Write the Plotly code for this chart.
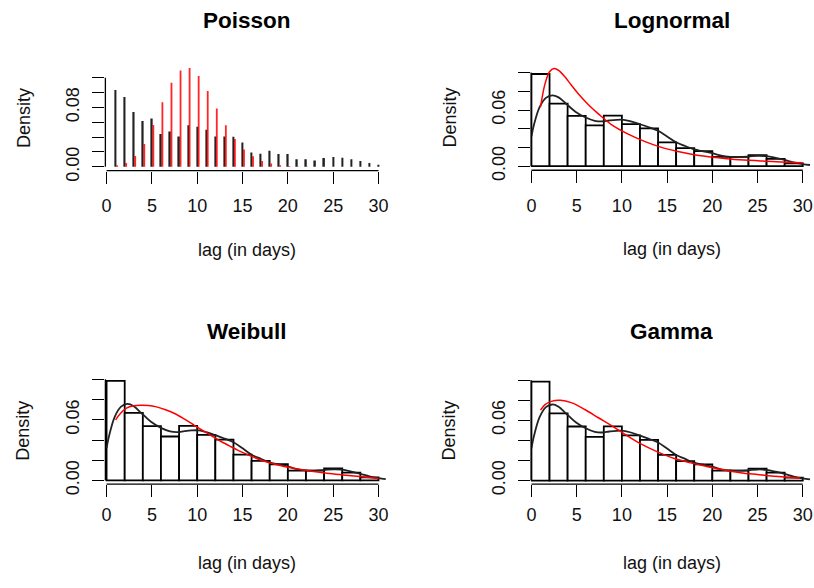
import plotly.graph_objects as go

W, H = 814, 588
FONT = "Liberation Sans"

# ---- data -------------------------------------------------------------
lag = list(range(1, 31))
# observed proportion of cases for each lag (days)
obs_prop = [0.1037, 0.0940, 0.0738, 0.0619, 0.0650, 0.0442, 0.0477, 0.0410,
            0.0560, 0.0540, 0.0500, 0.0410, 0.0410, 0.0406, 0.0327, 0.0194,
            0.0177, 0.0216, 0.0172, 0.0172, 0.0102, 0.0102, 0.0084, 0.0119,
            0.0133, 0.0124, 0.0102, 0.0080, 0.0053, 0.0027]
# fitted Poisson probabilities
pois_pmf = [0.0022, 0.0053, 0.0146, 0.0308, 0.0565, 0.0869, 0.1134, 0.1300,
            0.1332, 0.1226, 0.1023, 0.0785, 0.0560, 0.0375, 0.0234, 0.0141,
            0.0079, 0.0044, 0.0022, 0.0011, 0.0005, 0.0003, 0.0002, 0.0001,
            0.0001, 0.0001, 0.0000, 0.0000, 0.0000, 0.0000]

# histogram of lags, bins of width 2 on [0, 30]
bin_mid = [1, 3, 5, 7, 9, 11, 13, 15, 17, 19, 21, 23, 25, 27, 29]
hist_dens = [0.0985, 0.0668, 0.0538, 0.0435, 0.0540, 0.0450, 0.0404, 0.0255,
             0.0193, 0.0160, 0.0098, 0.0098, 0.0118, 0.0078, 0.0030]

# kernel density estimate of the lags
kde_x = [0.0, 0.3, 0.9, 1.6, 2.3, 3.0, 3.8, 4.9, 6.0, 7.0, 7.8, 8.6, 9.4, 10.2,
         11.0, 12.0, 13.0, 14.0, 15.0, 16.0, 17.0, 18.0, 19.0, 20.0, 21.0,
         22.0, 23.0, 24.0, 25.0, 26.0, 27.0, 28.0, 29.0, 30.0, 30.8]
kde_y = [0.032, 0.045, 0.063, 0.073, 0.0757, 0.0735, 0.067, 0.058, 0.052,
         0.0485, 0.0478, 0.0488, 0.0495, 0.0495, 0.0478, 0.0448, 0.0415,
         0.0378, 0.0318, 0.0255, 0.0215, 0.0178, 0.0158, 0.0138, 0.0112,
         0.0100, 0.0098, 0.0103, 0.0110, 0.0106, 0.0088, 0.0066, 0.0040,
         0.0022, 0.0012]

# fitted densities
lnorm_x = [1.0, 1.5, 2.0, 2.5, 3.0, 3.7, 4.4, 5.2, 6.3, 7.4, 8.8, 10.7, 12.5,
           14.3, 16.2, 18.0, 19.8, 21.6, 23.5, 25.3, 27.1, 30.0]
lnorm_y = [0.063, 0.088, 0.101, 0.1045, 0.1025, 0.0955, 0.0867, 0.0772,
           0.0657, 0.0559, 0.0447, 0.0342, 0.0265, 0.0203, 0.0157, 0.0122,
           0.0098, 0.0080, 0.0066, 0.0056, 0.0046, 0.0035]

weib_x = [1.0, 1.5, 2.2, 3.0, 3.8, 4.6, 5.5, 6.5, 7.5, 8.5, 9.5, 10.5, 11.5,
          12.5, 13.5, 14.5, 15.5, 17.0, 18.8, 20.6, 22.4, 24.3, 26.1, 27.9,
          30.0]
weib_y = [0.060, 0.066, 0.0715, 0.0738, 0.0745, 0.0742, 0.0728, 0.070,
          0.0662, 0.0612, 0.0556, 0.050, 0.0446, 0.0392, 0.0345, 0.0298,
          0.0258, 0.0203, 0.0155, 0.0120, 0.0093, 0.0071, 0.0055, 0.0040,
          0.0020]

gam_x = [1.0, 1.5, 2.2, 3.2, 4.4, 5.9, 7.4, 8.9, 10.3, 12.1, 14.0, 15.8, 17.6,
         19.5, 21.3, 23.1, 25.0, 26.8, 29.7]
gam_y = [0.070, 0.0756, 0.0788, 0.0798, 0.0775, 0.0707, 0.0625, 0.0544,
         0.0463, 0.0365, 0.0283, 0.0219, 0.0176, 0.0137, 0.0104, 0.0078,
         0.0059, 0.0042, 0.0023]

x_ticks = [0, 5, 10, 15, 20, 25, 30]
y_ticks_pois = [0.00, 0.02, 0.04, 0.06, 0.08, 0.10, 0.12]
y_text_pois = ["0.00", "", "", "", "0.08", "", ""]
y_ticks_hist = [0.00, 0.02, 0.04, 0.06, 0.08, 0.10]
y_text_hist = ["0.00", "", "", "0.06", "", ""]

titles = ["Poisson", "Lognormal", "Weibull", "Gamma"]

# ---- panel geometry (pixels) -----------------------------------------
# left/right/top/bottom: plotting region; x0, xs: pixel of lag 0 and px per day;
# y0, ys: pixel of density 0 and px per unit density
geo = [
    dict(left=101.0, right=386.0, top=66.0, bottom=173.8, x0=102.2, xs=9.12,
         y0=170.0, ys=755.8, title_y=21.0, xstand=7, lab_dy=80.5),
    dict(left=529.3, right=812.5, top=66.0, bottom=173.5, x0=529.7, xs=9.10,
         y0=169.3, ys=953.0, title_y=21.0, xstand=7, lab_dy=80.5),
    dict(left=101.0, right=386.0, top=384.0, bottom=493.3, x0=102.2, xs=9.12,
         y0=489.6, ys=1030.0, title_y=338.0, xstand=2, lab_dy=80.0),
    dict(left=529.3, right=812.5, top=384.0, bottom=493.3, x0=529.7, xs=9.10,
         y0=489.7, ys=1024.0, title_y=338.0, xstand=2, lab_dy=80.0),
]

fig = go.Figure()
layout = dict(
    width=W, height=H, margin=dict(l=0, r=0, t=0, b=0),
    paper_bgcolor="white", plot_bgcolor="white", showlegend=False,
    barmode="overlay", font=dict(family=FONT, size=18, color="black"),
)
shapes, annotations = [], []

for i, g in enumerate(geo):
    n = "" if i == 0 else str(i + 1)
    xa, ya = "x" + n, "y" + n
    xr = [(g["left"] - g["x0"]) / g["xs"], (g["right"] - g["x0"]) / g["xs"]]
    yr = [-(g["bottom"] - g["y0"]) / g["ys"], (g["y0"] - g["top"]) / g["ys"]]
    yt, ytt = (y_ticks_pois, y_text_pois) if i == 0 else (y_ticks_hist, y_text_hist)

    layout["xaxis" + n] = dict(
        domain=[g["left"] / W, g["right"] / W], range=xr, anchor=ya,
        showgrid=False, zeroline=False, showline=False,
        ticks="outside", ticklen=12, tickwidth=1.3, tickcolor="black",
        tickvals=x_ticks, ticktext=[str(v) for v in x_ticks],
        tickfont=dict(family=FONT, size=18, color="#111"),
        ticklabelstandoff=g["xstand"], fixedrange=True,
    )
    layout["yaxis" + n] = dict(
        domain=[1 - g["bottom"] / H, 1 - g["top"] / H], range=yr, anchor=xa,
        showgrid=False, zeroline=False, showline=False,
        ticks="outside", ticklen=12, tickwidth=1.3, tickcolor="black",
        tickvals=yt, ticktext=ytt, tickangle=-90,
        tickfont=dict(family=FONT, size=18, color="#111"),
        ticklabelstandoff=6, fixedrange=True,
    )
    # axis lines spanning the tick range only
    shapes.append(dict(type="line", xref=xa, yref=ya + " domain", x0=0, x1=30,
                       y0=0, y1=0, line=dict(color="black", width=1.3)))
    shapes.append(dict(type="line", xref=xa + " domain", yref=ya, x0=0, x1=0,
                       y0=yt[0], y1=yt[-1], line=dict(color="black", width=1.3)))

    cx = (g["left"] + g["right"]) / 2
    annotations.append(dict(text="<b>%s</b>" % titles[i], x=cx / W,
                            y=1 - g["title_y"] / H, xref="paper", yref="paper",
                            showarrow=False, xanchor="center", yanchor="middle",
                            font=dict(family=FONT, size=22.5, color="black")))
    annotations.append(dict(text="lag (in days)", x=cx / W,
                            y=1 - (g["bottom"] + g["lab_dy"]) / H, xref="paper",
                            yref="paper", showarrow=False, xanchor="center",
                            yanchor="middle",
                            font=dict(family=FONT, size=18, color="#111")))
    annotations.append(dict(text="Density", x=(g["left"] - 82.5) / W,
                            y=1 - (g["top"] + g["bottom"]) / 2 / H,
                            xref="paper", yref="paper", showarrow=False,
                            textangle=-90, xanchor="center", yanchor="middle",
                            font=dict(family=FONT, size=18, color="#111")))

    if i == 0:
        fig.add_trace(go.Bar(x=lag, y=obs_prop, width=0.17, offset=-0.085,
                             marker=dict(color="#222", line=dict(width=0)),
                             xaxis=xa, yaxis=ya))
        fig.add_trace(go.Bar(x=lag, y=pois_pmf, width=0.2, offset=0.06,
                             marker=dict(color="rgba(255,0,0,0.85)",
                                         line=dict(width=0)),
                             xaxis=xa, yaxis=ya))
    else:
        fig.add_trace(go.Bar(x=bin_mid, y=hist_dens, width=2,
                             marker=dict(color="white",
                                         line=dict(color="black", width=1.8)),
                             xaxis=xa, yaxis=ya))
        fig.add_trace(go.Scatter(x=kde_x, y=kde_y, mode="lines",
                                 line=dict(color="#222", width=1.8,
                                           shape="spline", smoothing=1),
                                 xaxis=xa, yaxis=ya, cliponaxis=False))
        fx, fy = [(lnorm_x, lnorm_y), (weib_x, weib_y), (gam_x, gam_y)][i - 1]
        fig.add_trace(go.Scatter(x=fx, y=fy, mode="lines",
                                 line=dict(color="red", width=1.5,
                                           shape="spline", smoothing=1),
                                 xaxis=xa, yaxis=ya, cliponaxis=False))

layout["shapes"] = shapes
layout["annotations"] = annotations
fig.update_layout(**layout)
fig.write_html("out.html")
